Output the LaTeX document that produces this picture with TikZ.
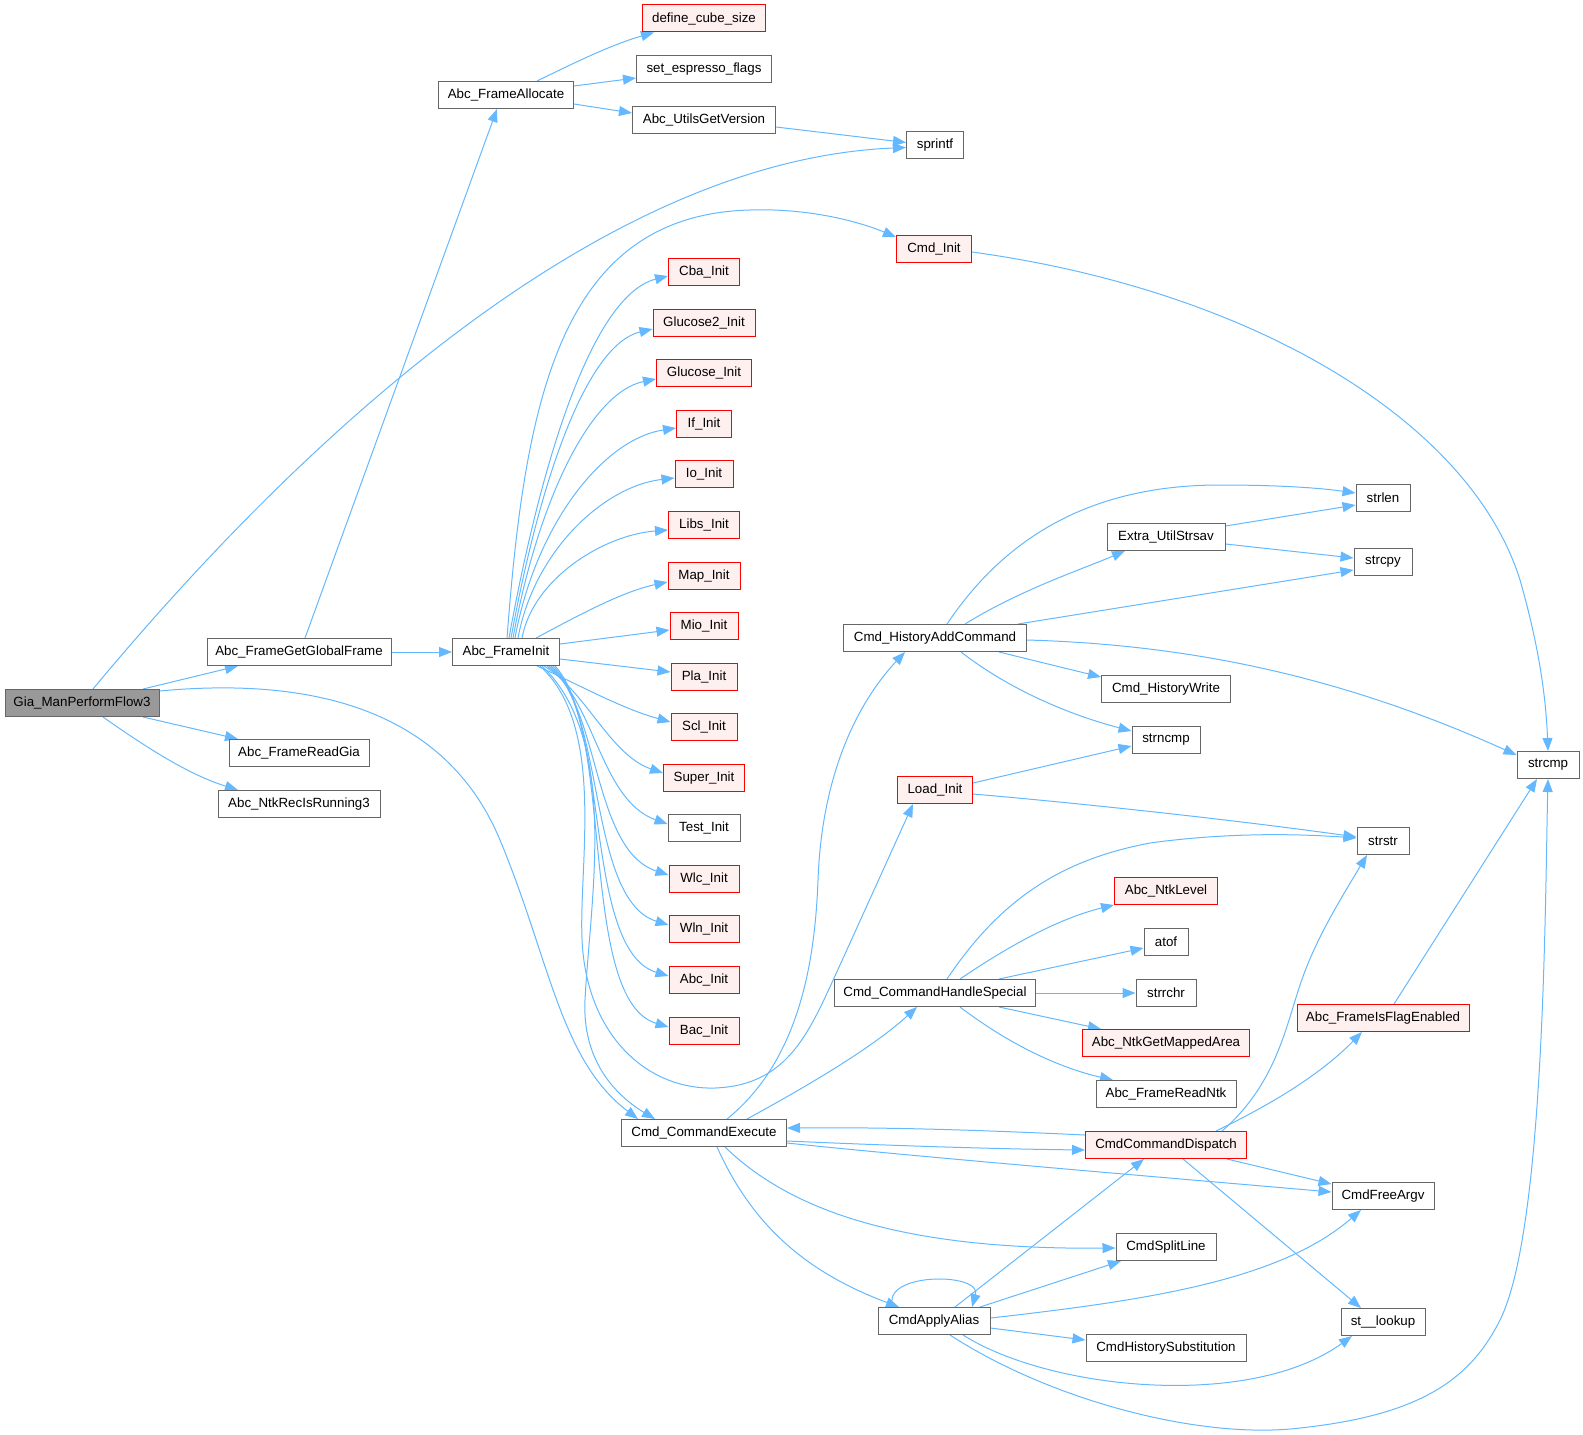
\documentclass[tikz,border=0pt]{standalone}
\usepackage{fontspec}
\setmainfont{Liberation Sans}
\usetikzlibrary{arrows.meta,calc}
\definecolor{edgec}{HTML}{63B8FF}
\definecolor{ngray}{HTML}{666666}
\definecolor{nred}{HTML}{FF0000}
\definecolor{nredfill}{HTML}{FFF0F0}
\definecolor{nroot}{HTML}{999999}
\pgfdeclarelayer{bg}
\pgfsetlayers{bg,main}
\tikzset{
  box/.style={draw=ngray, fill=white, line width=0.75pt, minimum height=20.25pt, inner sep=0pt, font=\fontsize{10pt}{12pt}\selectfont},
  redbox/.style={box, draw=nred, fill=nredfill},
  rootbox/.style={box, fill=nroot},
  wd/.style={minimum width=#1*0.75pt},
  arr/.style={draw=edgec, line width=0.75pt, -{Triangle[length=9.75pt,width=7.5pt]}}
}
\begin{document}
\begin{tikzpicture}[x=0.75pt,y=-0.75pt]
\useasboundingbox (0,0) rectangle (1583,1434);
% column 0-2
\node[rootbox, wd=154] (gia) at (82,703) {Gia\_ManPerformFlow3};
\node[box, wd=184] (fgg) at (299,652) {Abc\_FrameGetGlobalFrame};
\node[box, wd=140] (frg) at (299,753) {Abc\_FrameReadGia};
\node[box, wd=162] (nrr) at (299,804) {Abc\_NtkRecIsRunning3};
\node[box, wd=135] (fal) at (506,95) {Abc\_FrameAllocate};
\node[box, wd=107] (fi) at (506,652) {Abc\_FrameInit};
% column 3
\node[redbox, wd=123] (dcs) at (704,18.5) {define\_cube\_size};
\node[box, wd=135] (sef) at (704,69) {set\_espresso\_flags};
\node[box, wd=143] (ugv) at (704,120) {Abc\_UtilsGetVersion};
\node[redbox, wd=71] (cba) at (704,272) {Cba\_Init};
\node[redbox, wd=102] (glu2) at (704,323) {Glucose2\_Init};
\node[redbox, wd=95] (glu) at (704,373) {Glucose\_Init};
\node[redbox, wd=55] (ifi) at (704,424) {If\_Init};
\node[redbox, wd=58] (ioi) at (704,474) {Io\_Init};
\node[redbox, wd=71] (libs) at (704,525) {Libs\_Init};
\node[redbox, wd=72] (mapi) at (704,576) {Map\_Init};
\node[redbox, wd=68] (mio) at (704,626) {Mio\_Init};
\node[redbox, wd=66] (pla) at (704,677) {Pla\_Init};
\node[redbox, wd=66] (scl) at (704,727) {Scl\_Init};
\node[redbox, wd=81] (sup) at (704,778) {Super\_Init};
\node[box, wd=72] (test) at (704,828) {Test\_Init};
\node[redbox, wd=70] (wlc) at (704,879) {Wlc\_Init};
\node[redbox, wd=70] (wln) at (704,929) {Wln\_Init};
\node[redbox, wd=70] (abci) at (704,980) {Abc\_Init};
\node[redbox, wd=70] (bac) at (704,1031) {Bac\_Init};
\node[box, wd=165] (cce) at (704,1133) {Cmd\_CommandExecute};
% column 4
\node[box, wd=57] (spr) at (935,145.5) {sprintf};
\node[redbox, wd=75] (cmdi) at (934,249) {Cmd\_Init};
\node[box, wd=183] (hac) at (935,638) {Cmd\_HistoryAddCommand};
\node[redbox, wd=75] (ldi) at (935,790) {Load\_Init};
\node[box, wd=201] (hsp) at (935,993) {Cmd\_CommandHandleSpecial};
\node[box, wd=112] (caa) at (934,1321) {CmdApplyAlias};
% column 5
\node[box, wd=118] (eus) at (1166,537) {Extra\_UtilStrsav};
\node[box, wd=129] (hwr) at (1166,689) {Cmd\_HistoryWrite};
\node[box, wd=68] (sncmp) at (1166,740) {strncmp};
\node[redbox, wd=103] (nlev) at (1166,891) {Abc\_NtkLevel};
\node[box, wd=44] (atof) at (1166,942) {atof};
\node[box, wd=60] (srchr) at (1166,993) {strrchr};
\node[redbox, wd=167] (nma) at (1166,1043) {Abc\_NtkGetMappedArea};
\node[box, wd=140] (frn) at (1166,1094) {Abc\_FrameReadNtk};
\node[redbox, wd=161] (ccd) at (1166,1145) {CmdCommandDispatch};
\node[box, wd=100] (csl) at (1166,1247) {CmdSplitLine};
\node[box, wd=160] (chs) at (1166,1348) {CmdHistorySubstitution};
% column 6
\node[box, wd=54] (slen) at (1383,498) {strlen};
\node[box, wd=58] (scpy) at (1383,562) {strcpy};
\node[box, wd=52] (sstr) at (1383,841) {strstr};
\node[redbox, wd=172] (fife) at (1383,1018) {Abc\_FrameIsFlagEnabled};
\node[box, wd=102] (cfa) at (1383,1196) {CmdFreeArgv};
\node[box, wd=84] (stl) at (1383,1322) {st\_\_lookup};
% column 7
\node[box, wd=62] (scmp) at (1548,765) {strcmp};

\begin{pgfonlayer}{bg}
% Gia_ManPerformFlow3
\draw[arr] ($(gia.north)+(11,0)$) .. controls (300,440) and (600,160) .. ($(spr.west)+(0,2)$);
\draw[arr] ($(gia.north)+(61,0)$) -- ($(fgg.south)+(-61,0)$);
\draw[arr] ($(gia.east)+(0,-12)$) .. controls (330,675) and (450,720) .. (500,840) .. controls (550,960) and (560,1060) .. ($(cce.north)+(-66,0)$);
\draw[arr] ($(gia.south)+(61,0)$) -- ($(frg.north)+(-61,0)$);
\draw[arr] ($(gia.south)+(21,0)$) .. controls (150,750) and (190,775) .. ($(nrr.north)+(-61,0)$);
% Abc_FrameGetGlobalFrame
\draw[arr] ($(fgg.north)+(6,0)$) -- ($(fal.south)+(-9,0)$);
\draw[arr] (fgg.east) -- (fi.west);
% Abc_FrameAllocate
\draw[arr] ($(fal.north)+(31,0)$) .. controls (570,65) and (610,45) .. ($(dcs.south)+(-50,0)$);
\draw[arr] ($(fal.east)+(0,-9)$) -- ($(sef.west)+(0,9)$);
\draw[arr] ($(fal.east)+(0,9)$) -- ($(ugv.west)+(0,-7)$);
\draw[arr] ($(ugv.east)+(0,7)$) -- ($(spr.west)+(0,-3)$);
% Abc_FrameInit
\draw[arr] ($(fi.north)+(1,0)$) .. controls (525,400) and (560,215) .. (750,210) .. controls (810,208) and (860,222) .. ($(cmdi.north west)+(0,2)$);
\draw[arr] ($(fi.north)+(3,0)$) .. controls (545,440) and (597,294) .. ($(cba.west)+(0,4)$);
\draw[arr] ($(fi.north)+(5,0)$) .. controls (542,469) and (589,344) .. ($(glu2.west)+(0,6)$);
\draw[arr] ($(fi.north)+(7,0)$) .. controls (539,496) and (592,392) .. ($(glu.west)+(0,6)$);
\draw[arr] ($(fi.north)+(9,0)$) .. controls (536,523) and (604,439) .. ($(ifi.west)+(0,4)$);
\draw[arr] ($(fi.north)+(12,0)$) .. controls (534,551) and (604,486) .. ($(ioi.west)+(0,4)$);
\draw[arr] ($(fi.north)+(16,0)$) .. controls (533,579) and (603,535) .. ($(libs.west)+(0,5)$);
\draw[arr] ($(fi.north)+(30,0)$) .. controls (570,620) and (620,592) .. ($(mapi.west)+(0,6)$);
\draw[arr] ($(fi.east)+(0,-8)$) -- ($(mio.west)+(0,4)$);
\draw[arr] ($(fi.east)+(0,7)$) -- ($(pla.west)+(0,-5)$);
\draw[arr] ($(fi.south)+(31,0)$) .. controls (580,685) and (620,708) .. ($(scl.west)+(0,-5)$);
\draw[arr] ($(fi.south)+(38,0)$) .. controls (585,690) and (610,755) .. ($(sup.west)+(0,-5)$);
\draw[arr] ($(fi.south)+(41,0)$) .. controls (595,700) and (600,800) .. ($(test.west)+(0,-4)$);
\draw[arr] ($(fi.south)+(43,0)$) .. controls (600,705) and (592,850) .. ($(wlc.west)+(0,-4)$);
\draw[arr] ($(fi.south)+(45,0)$) .. controls (605,712) and (588,900) .. ($(wln.west)+(0,-4)$);
\draw[arr] ($(fi.south)+(47,0)$) .. controls (610,720) and (583,950) .. ($(abci.west)+(0,-4)$);
\draw[arr] ($(fi.south)+(49,0)$) .. controls (615,730) and (578,1000) .. ($(bac.west)+(0,-4)$);
\draw[arr] ($(fi.south)+(34,0)$) .. controls (610,730) and (575,880) .. (583,953) .. controls (592,1040) and (650,1090) .. (715,1088) .. controls (790,1085) and (810,1030) .. (840,965) -- ($(ldi.south)+(-22,0)$);
\draw[arr] ($(fi.south)+(36,0)$) .. controls (620,740) and (590,900) .. (585,1000) .. controls (582,1060) and (615,1095) .. ($(cce.north)+(-49,0)$);
% Cmd_Init
\draw[arr] ($(cmdi.east)+(0,3)$) .. controls (1250,290) and (1470,420) .. (1520,580) .. controls (1540,650) and (1546,700) .. (scmp.north);
% Cmd_HistoryAddCommand
\draw[arr] ($(hac.north)+(12,0)$) .. controls (1010,530) and (1100,485) .. (1220,485) .. controls (1280,485) and (1320,488) .. ($(slen.west)+(0,-5)$);
\draw[arr] ($(hac.north)+(30,0)$) .. controls (1020,590) and (1080,570) .. ($(eus.south)+(-41,0)$);
\draw[arr] ($(hac.north)+(83,0)$) -- ($(scpy.west)+(0,8)$);
\draw[arr] ($(hac.east)+(0,2)$) .. controls (1200,645) and (1350,680) .. ($(scmp.west)+(0,-10)$);
\draw[arr] ($(hac.south)+(64,0)$) -- ($(hwr.west)+(0,-12)$);
\draw[arr] ($(hac.south)+(26,0)$) .. controls (1010,690) and (1070,715) .. ($(sncmp.west)+(0,-9)$);
% Extra_UtilStrsav
\draw[arr] ($(eus.east)+(0,-11)$) -- ($(slen.west)+(0,7)$);
\draw[arr] ($(eus.east)+(0,7)$) -- ($(scpy.west)+(0,-4)$);
% Load_Init
\draw[arr] ($(ldi.east)+(0,-7)$) -- ($(sncmp.west)+(0,6)$);
\draw[arr] ($(ldi.east)+(0,4)$) .. controls (1100,805) and (1250,822) .. ($(sstr.west)+(0,-4)$);
% Cmd_CommandHandleSpecial
\draw[arr] ($(hsp.north)+(12,0)$) .. controls (1000,900) and (1060,860) .. (1150,843) .. controls (1230,832) and (1300,834) .. ($(sstr.west)+(0,-3)$);
\draw[arr] ($(hsp.north)+(25,0)$) .. controls (1010,945) and (1060,918) .. (nlev.south west);
\draw[arr] ($(hsp.north)+(64,0)$) -- ($(atof.west)+(0,6)$);
\draw[arr] (hsp.east) -- (srchr.west);
\draw[arr] ($(hsp.south)+(64,0)$) -- ($(nma.north)+(-65,0)$);
\draw[arr] ($(hsp.south)+(25,0)$) .. controls (1010,1045) and (1060,1068) .. ($(frn.north)+(-53,0)$);
% Cmd_CommandExecute
\draw[arr] ($(cce.north)+(23,0)$) .. controls (800,1060) and (815,960) .. (818,880) .. controls (822,770) and (860,700) .. ($(hac.south)+(-30,0)$);
\draw[arr] ($(cce.north)+(43,0)$) .. controls (800,1090) and (870,1050) .. ($(hsp.south)+(-18,0)$);
\draw[arr] ($(cce.east)+(0,8)$) .. controls (900,1146) and (1000,1149) .. ($(ccd.west)+(0,5)$);
\draw[arr] ($(cce.east)+(0,10)$) .. controls (900,1155) and (1100,1172) .. ($(cfa.west)+(0,-4)$);
\draw[arr] ($(cce.south)+(21,0)$) .. controls (790,1210) and (900,1250) .. ($(csl.west)+(0,1)$);
\draw[arr] ($(cce.south)+(13,0)$) .. controls (750,1220) and (800,1270) .. ($(caa.north)+(-35,0)$);
% CmdCommandDispatch
\draw[arr] ($(ccd.west)+(0,-10)$) .. controls (1000,1131) and (900,1127) .. ($(cce.east)+(0,-5)$);
\draw[arr] ($(ccd.north)+(56,0)$) .. controls (1275,1085) and (1285,1030) .. (1300,985) .. controls (1315,940) and (1340,900) .. ($(sstr.south)+(-16,0)$);
\draw[arr] ($(ccd.north)+(50,0)$) .. controls (1270,1105) and (1320,1075) .. ($(fife.south)+(-21,0)$);
\draw[arr] ($(ccd.south)+(61,0)$) -- ($(cfa.west)+(0,-12)$);
\draw[arr] ($(ccd.south)+(17,0)$) -- ($(stl.north)+(-22,0)$);
% CmdApplyAlias
\draw[arr] ($(caa.north)+(-41,0)$) .. controls (880,1272) and (982,1272) .. ($(caa.north)+(38,0)$);
\draw[arr] ($(caa.north)+(21,0)$) -- ($(ccd.south)+(-22,0)$);
\draw[arr] ($(caa.north)+(46,0)$) -- ($(csl.south)+(-45,0)$);
\draw[arr] ($(caa.east)+(0,-3)$) .. controls (1150,1300) and (1280,1280) .. ($(cfa.south)+(-22,0)$);
\draw[arr] ($(caa.east)+(0,7)$) -- ($(chs.west)+(0,-8)$);
\draw[arr] ($(caa.south)+(29,0)$) .. controls (1050,1390) and (1250,1410) .. ($(stl.south)+(-31,0)$);
\draw[arr] ($(caa.south)+(16,0)$) .. controls (1050,1400) and (1200,1440) .. (1300,1428) .. controls (1420,1415) and (1470,1380) .. (1500,1320) .. controls (1545,1230) and (1545,900) .. (scmp.south);
% Abc_FrameIsFlagEnabled
\draw[arr] ($(fife.north)+(11,0)$) -- ($(scmp.south)+(-11,0)$);
\end{pgfonlayer}
\end{tikzpicture}
\end{document}
